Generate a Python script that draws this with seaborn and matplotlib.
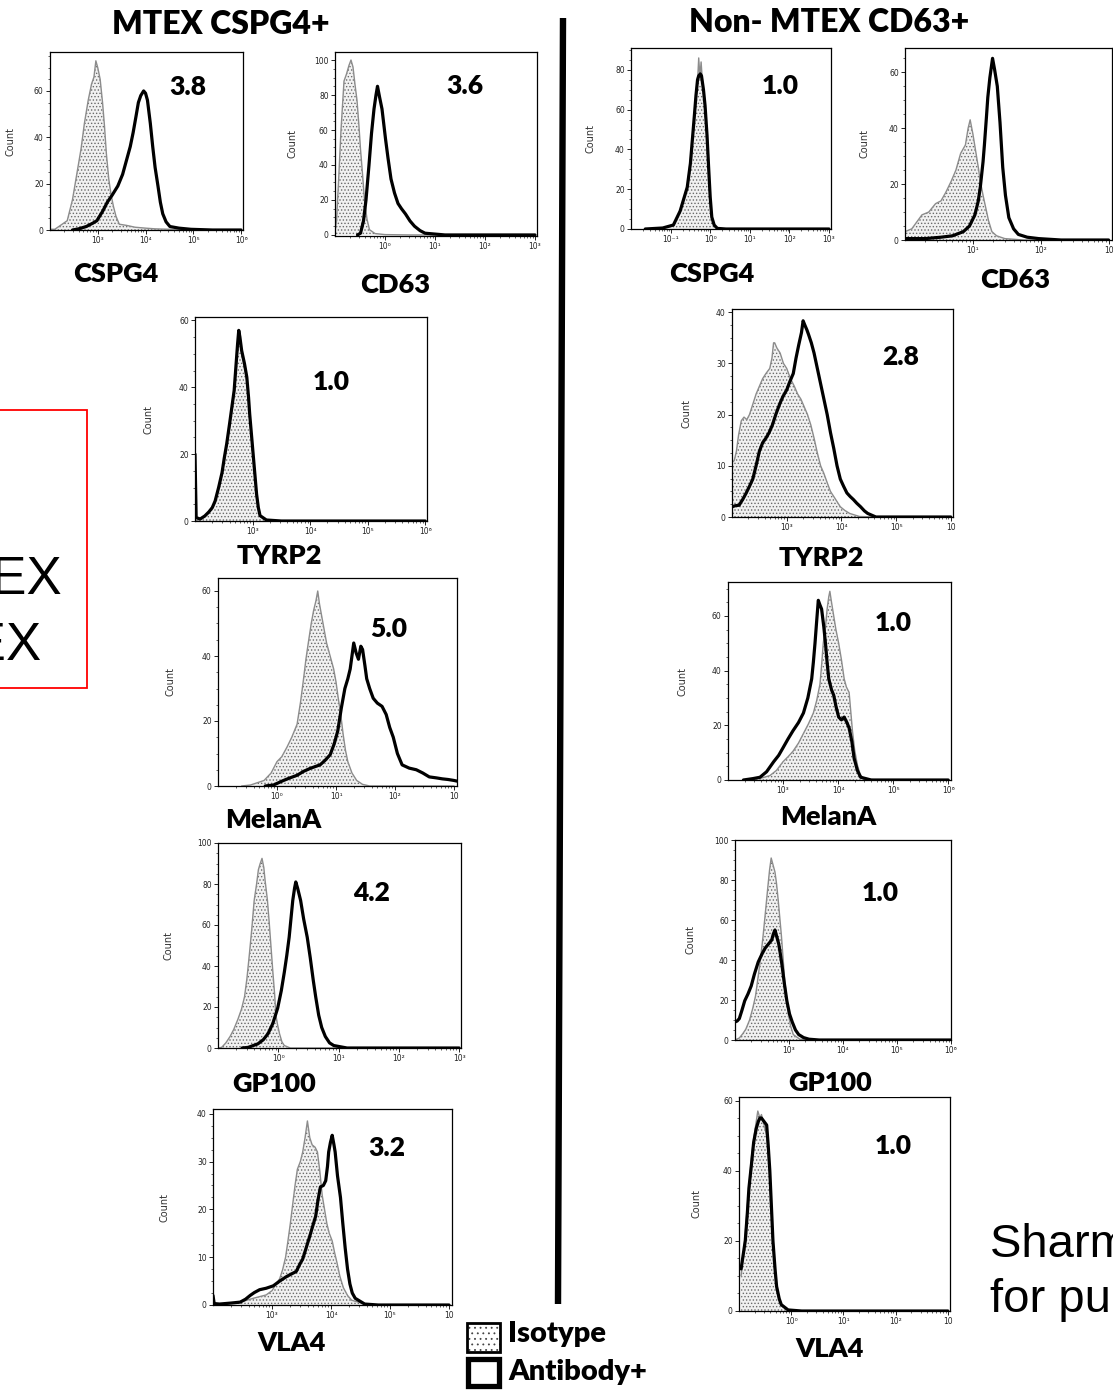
import numpy as np
import pandas as pd
import matplotlib
matplotlib.use("Agg")
import matplotlib.pyplot as plt
import seaborn as sns
from matplotlib.patches import Rectangle
from matplotlib.lines import Line2D
from matplotlib.ticker import AutoMinorLocator, LogLocator, NullFormatter, FixedLocator

# ---------------- data (log10 intensity, count) ----------------
GROUP_TITLES = ["MTEX CSPG4+", "Non- MTEX CD63+"]
MARKERS = ["CSPG4", "CD63", "TYRP2", "MelanA", "GP100", "VLA4"]
FOLD_MTEX = ["3.8", "3.6", "1.0", "5.0", "4.2", "3.2"]
FOLD_NON = ["1.0", "", "2.8", "1.0", "1.0", "1.0"]
LEGEND_LABELS = ["Isotype", "Antibody+"]

mtex_cspg4_iso = [(2.0,0.3),(2.1,0.3),(2.36,4),(2.47,13),(2.56,24),(2.65,35),(2.72,46),(2.8,56),(2.87,63),(2.92,66),(2.96,73),(3.0,70),(3.05,65),(3.1,55),(3.14,45),(3.18,33),(3.23,22),(3.28,15),(3.33,10),(3.38,6),(3.45,2.5),(3.6,2),(3.78,1.2),(4.0,0.8),(4.2,0.5),(4.7,0.2),(5.2,0),(6.0,0)]
mtex_cspg4_ab = [(2.47,0),(2.6,0.5),(2.76,1.5),(2.9,3),(2.98,4),(3.1,8),(3.2,12),(3.3,15),(3.42,19),(3.52,24),(3.6,30),(3.68,36),(3.74,42),(3.8,49),(3.85,55),(3.9,58),(3.96,60),(4.0,59),(4.04,56),(4.1,46),(4.15,36),(4.2,27),(4.26,19),(4.31,12),(4.36,7),(4.43,3.5),(4.51,1.5),(4.7,0.8),(4.95,0.3),(5.4,0),(6.0,0)]

mtex_cd63_iso = [(-1.0,2),(-0.97,8),(-0.93,30),(-0.88,60),(-0.82,88),(-0.77,92),(-0.72,97),(-0.68,100),(-0.64,96),(-0.6,86),(-0.56,77),(-0.52,62),(-0.49,49),(-0.45,35),(-0.41,20),(-0.36,9),(-0.31,3),(-0.2,0.8),(0.0,0.2),(0.5,0),(3.0,0)]
mtex_cd63_ab = [(-0.55,0),(-0.49,1),(-0.43,8),(-0.38,20),(-0.32,40),(-0.27,58),(-0.22,72),(-0.18,80),(-0.15,85),(-0.11,79),(-0.06,72),(0.01,55),(0.06,44),(0.12,32),(0.19,24),(0.26,18),(0.33,15),(0.41,12),(0.5,8),(0.59,5),(0.7,2.5),(0.8,1),(1.0,0.5),(1.2,0),(3.0,0)]

non_cspg4_iso = [(-1.64,0),(-1.2,0.5),(-0.93,2),(-0.76,9),(-0.66,15),(-0.58,21),(-0.5,35),(-0.45,45),(-0.4,58),(-0.35,70),(-0.31,78),(-0.29,86),(-0.26,76),(-0.23,84),(-0.2,75),(-0.16,68),(-0.13,60),(-0.08,45),(-0.04,30),(0.0,15),(0.04,6),(0.1,2),(0.18,0.3),(0.4,0),(3.0,0)]
non_cspg4_ab = [(-1.64,0),(-1.2,0.5),(-0.93,2),(-0.76,9),(-0.58,21),(-0.5,33),(-0.45,45),(-0.4,57),(-0.36,67),(-0.32,75),(-0.29,77),(-0.25,78),(-0.22,77),(-0.17,70),(-0.13,62),(-0.08,47),(-0.04,31),(0.0,16),(0.04,6),(0.1,2),(0.18,0.3),(0.4,0),(3.0,0)]

non_cd63_iso = [(0.0,3),(0.1,4),(0.25,9),(0.35,10),(0.45,13),(0.53,14),(0.6,17),(0.68,21),(0.75,25),(0.82,31),(0.89,34),(0.93,40),(0.96,43),(1.0,38),(1.04,32),(1.08,26),(1.11,21),(1.15,16),(1.19,11.5),(1.23,7),(1.28,3),(1.35,1.5),(1.47,0.5),(1.75,0),(3.0,0)]
non_cd63_ab = [(0.0,0.5),(0.3,0.5),(0.53,1),(0.7,1.5),(0.86,3),(0.95,5),(1.03,9),(1.08,14),(1.11,19),(1.15,28),(1.17,34),(1.2,44),(1.22,51),(1.25,58),(1.29,65),(1.32,61),(1.36,55),(1.4,42),(1.44,26),(1.48,16),(1.53,8),(1.6,4),(1.67,2),(1.8,1),(1.97,0.5),(2.3,0),(3.0,0)]

mtex_tyrp2_iso = [(2.0,0),(2.09,0.5),(2.17,1.4),(2.24,2.5),(2.3,4),(2.35,5.5),(2.41,9.5),(2.47,14),(2.51,18),(2.55,22.5),(2.6,28),(2.64,33),(2.68,38),(2.71,45),(2.74,52),(2.76,56),(2.78,54),(2.81,50),(2.86,46),(2.9,42),(2.93,36),(2.95,31),(2.98,25),(3.01,19),(3.04,13),(3.07,7.5),(3.1,3.5),(3.13,1.5),(3.24,0.3),(3.5,0),(6.0,0)]
mtex_tyrp2_ab = [(2.0,20),(2.02,1),(2.09,0.6),(2.17,1.5),(2.24,2.7),(2.3,4),(2.35,6),(2.41,10),(2.47,14.5),(2.51,19),(2.55,23),(2.6,29),(2.64,34),(2.68,39),(2.71,46),(2.74,53),(2.76,57),(2.78,55),(2.81,51),(2.86,47),(2.9,43),(2.93,37),(2.95,32),(2.98,26),(3.01,20),(3.04,14),(3.07,8),(3.1,4),(3.13,1.6),(3.24,0.3),(3.5,0),(6.0,0)]

mtex_melana_iso = [(-0.6,0),(-0.45,0.3),(-0.22,1.7),(-0.1,4),(0.0,7.5),(0.08,9),(0.17,12),(0.25,15),(0.34,19),(0.4,26),(0.45,33),(0.49,39),(0.53,44),(0.58,50),(0.62,54),(0.66,57),(0.69,60),(0.72,56),(0.76,52),(0.8,48),(0.84,44),(0.9,40),(0.96,36),(1.0,32),(1.03,28),(1.08,22),(1.12,16),(1.16,11),(1.2,7.5),(1.27,4),(1.35,1.7),(1.45,0.5),(1.57,0),(3.0,0)]
mtex_melana_ab = [(-0.2,0),(-0.06,0.3),(0.11,1.7),(0.22,2.5),(0.34,3.3),(0.45,4.5),(0.56,5.4),(0.65,6),(0.73,6.5),(0.82,8),(0.9,9.6),(0.97,13),(1.03,17),(1.09,24),(1.15,30),(1.2,33),(1.24,36),(1.27,40),(1.3,44),(1.34,41),(1.38,39),(1.42,43),(1.45,42),(1.49,37),(1.52,33),(1.57,30),(1.63,27),(1.7,25.5),(1.78,24.5),(1.85,22),(1.91,18),(1.97,15),(2.04,10),(2.12,6.5),(2.24,5.5),(2.36,5),(2.47,4),(2.58,2.8),(2.7,2.5),(2.8,2.2),(2.9,2),(3.0,1.7),(3.05,1.5)]

mtex_gp100_iso = [(-1.0,0),(-0.94,0.3),(-0.87,2.5),(-0.8,5.6),(-0.74,9),(-0.67,14),(-0.61,19),(-0.56,25),(-0.52,34),(-0.48,45.6),(-0.44,58),(-0.4,72),(-0.36,80),(-0.33,87),(-0.3,90),(-0.27,92.5),(-0.24,88),(-0.22,82),(-0.18,72),(-0.15,61),(-0.12,49),(-0.09,37),(-0.06,26),(-0.04,16),(-0.01,11),(0.02,7),(0.06,3),(0.1,1.2),(0.2,0),(3.0,0)]
mtex_gp100_ab = [(-0.6,0),(-0.5,0.3),(-0.34,2),(-0.25,4),(-0.17,7),(-0.09,12),(-0.01,19.5),(0.05,28),(0.1,37),(0.14,45),(0.18,54),(0.21,63),(0.24,72),(0.27,78),(0.29,81),(0.32,78),(0.37,72),(0.42,63),(0.48,54),(0.53,44),(0.58,33),(0.62,25),(0.67,16),(0.72,10),(0.78,5.6),(0.85,2.5),(0.92,1.2),(1.14,0),(3.0,0)]

mtex_vla4_iso = [(2.0,0),(2.18,0.2),(2.46,0.6),(2.68,1.4),(2.9,2.1),(3.0,3),(3.07,4.4),(3.13,5.5),(3.18,7.4),(3.23,10),(3.27,13.4),(3.31,17),(3.35,21),(3.39,25),(3.43,28.4),(3.48,30),(3.52,32),(3.56,35),(3.6,38.5),(3.64,35),(3.68,33.5),(3.73,33),(3.77,32),(3.81,28),(3.85,23),(3.89,20),(3.93,17),(3.97,15),(4.02,13.4),(4.06,11),(4.1,8.9),(4.15,6),(4.21,3.6),(4.28,2),(4.35,1),(4.57,0.2),(4.8,0),(6.0,0)]
mtex_vla4_ab = [(2.0,2),(2.02,0.3),(2.11,0.2),(2.3,0.4),(2.46,0.6),(2.55,1.2),(2.63,2),(2.7,2.6),(2.79,3.2),(2.9,3.5),(3.02,4),(3.13,5),(3.24,5.9),(3.33,6.5),(3.41,7),(3.47,8.5),(3.52,9.6),(3.58,12),(3.63,14),(3.69,16.5),(3.74,18.6),(3.78,22),(3.82,24.7),(3.87,25),(3.91,26),(3.94,29),(3.96,32),(3.99,34),(4.02,35.5),(4.05,33.5),(4.07,32),(4.11,27),(4.16,22.5),(4.2,17),(4.24,11.9),(4.28,7.5),(4.32,4.4),(4.36,2.5),(4.41,1.4),(4.57,0.2),(4.8,0),(6.0,0)]

non_tyrp2_iso = [(2.0,10.7),(2.04,11),(2.08,12.8),(2.12,16),(2.17,18.8),(2.22,19.5),(2.27,19),(2.32,20),(2.38,22),(2.44,24),(2.5,25.5),(2.56,27),(2.62,28),(2.69,29),(2.73,31),(2.76,34),(2.78,34),(2.82,33),(2.88,32),(2.94,30),(3.0,29),(3.07,27),(3.14,25.5),(3.2,24),(3.26,23),(3.32,21.5),(3.38,20),(3.44,18),(3.5,15.4),(3.56,12.5),(3.62,10),(3.68,8.5),(3.74,6.7),(3.8,5),(3.86,4),(3.92,3),(3.98,2),(4.06,1.3),(4.15,0.7),(4.33,0.1),(4.64,0),(6.0,0)]
non_tyrp2_ab = [(2.0,2),(2.06,2.2),(2.13,2.3),(2.2,3.5),(2.26,4.7),(2.32,6),(2.38,7.4),(2.44,10),(2.5,12.8),(2.56,14.5),(2.62,15.4),(2.68,16.5),(2.74,18),(2.8,20),(2.87,22),(2.93,23.5),(3.0,24.8),(3.06,26.5),(3.12,28),(3.17,31),(3.22,33.6),(3.27,36),(3.3,38.3),(3.33,37.5),(3.37,36.5),(3.4,35.6),(3.45,34),(3.5,32),(3.56,29),(3.62,26),(3.68,23),(3.74,20),(3.8,16.5),(3.86,13.4),(3.92,10),(3.98,7.4),(4.04,6),(4.1,4.7),(4.16,4),(4.22,3.4),(4.28,2.7),(4.35,2),(4.42,1.2),(4.48,0.7),(4.63,0),(6.0,0)]

non_melana_iso = [(2.4,0),(2.6,0.7),(2.76,1.6),(2.88,3.5),(3.0,6.7),(3.09,8.5),(3.18,10.5),(3.28,13.5),(3.37,17),(3.46,20.5),(3.55,24.5),(3.61,29),(3.67,35),(3.7,42),(3.73,50),(3.77,56),(3.8,62.5),(3.83,67),(3.85,69),(3.88,65),(3.92,60),(3.96,55),(4.01,50),(4.06,44),(4.11,37),(4.15,34),(4.2,32),(4.23,25),(4.26,18),(4.3,11),(4.35,5.5),(4.4,2),(4.47,0.4),(4.72,0),(6.0,0)]
non_melana_ab = [(2.28,0),(2.45,0.5),(2.58,1),(2.7,3),(2.83,6.7),(2.92,9),(3.0,11.8),(3.09,15),(3.18,18),(3.28,21),(3.37,24.5),(3.45,30),(3.52,37),(3.55,43),(3.58,50),(3.61,58),(3.64,65.7),(3.67,64),(3.7,62.5),(3.74,56),(3.77,50),(3.8,43),(3.83,37),(3.88,33),(3.92,31),(3.96,27),(4.01,23),(4.06,22),(4.11,23),(4.16,21),(4.2,19),(4.25,14),(4.29,8),(4.35,3.5),(4.41,1),(4.6,0),(6.0,0)]

non_gp100_iso = [(2.0,0),(2.08,1),(2.14,3),(2.2,5.4),(2.27,10),(2.33,16),(2.38,22),(2.42,30),(2.47,40),(2.52,52),(2.56,63),(2.61,77),(2.64,85),(2.67,91),(2.7,88),(2.74,84),(2.77,78),(2.8,70),(2.83,61),(2.86,52),(2.89,41),(2.92,30),(2.96,20),(2.99,12.5),(3.03,7),(3.08,2.7),(3.2,0.4),(3.4,0),(6.0,0)]
non_gp100_ab = [(2.0,9),(2.04,9.5),(2.08,10.7),(2.13,15),(2.18,19.6),(2.24,23),(2.3,27),(2.36,33),(2.43,39),(2.5,43),(2.56,46),(2.62,48),(2.68,50),(2.71,53),(2.74,55),(2.77,52),(2.81,48),(2.84,43),(2.87,37.5),(2.91,29),(2.96,19.6),(3.01,13),(3.06,9),(3.12,5),(3.18,2.7),(3.27,1.2),(3.37,0.4),(3.56,0),(6.0,0)]

non_vla4_iso = [(-0.96,10),(-0.92,15),(-0.88,22),(-0.84,30),(-0.8,37),(-0.76,44),(-0.72,49),(-0.67,54),(-0.64,57),(-0.6,55),(-0.57,56),(-0.52,53),(-0.47,50),(-0.44,45),(-0.41,38),(-0.38,29),(-0.35,19),(-0.31,11),(-0.28,6),(-0.23,3),(-0.19,1.5),(-0.06,0.3),(0.2,0),(3.0,0)]
non_vla4_ab = [(-0.96,12),(-0.92,16),(-0.88,20),(-0.84,28),(-0.81,35),(-0.76,42),(-0.72,48),(-0.67,52),(-0.63,54),(-0.6,55),(-0.57,55),(-0.52,54),(-0.47,53),(-0.44,47),(-0.41,40),(-0.38,30),(-0.35,20),(-0.31,12),(-0.28,7),(-0.23,3.5),(-0.19,1.8),(-0.06,0.3),(0.2,0),(3.0,0)]

# tick positions (decades) and labels as printed on the panels
mtex_cspg4_xt = [3, 4, 5, 6];  mtex_cspg4_xl = ["10³", "10⁴", "10⁵", "10⁶"]
mtex_cd63_xt = [0, 1, 2, 3];   mtex_cd63_xl = ["10⁰", "10¹", "10²", "10³"]
non_cspg4_xt = [-1, 0, 1, 2, 3]; non_cspg4_xl = ["10⁻¹", "10⁰", "10¹", "10²", "10³"]
non_cd63_xt = [1, 2, 3];       non_cd63_xl = ["10¹", "10²", "10"]
mtex_tyrp2_xt = [3, 4, 5, 6];  mtex_tyrp2_xl = ["10³", "10⁴", "10⁵", "10⁶"]
mtex_melana_xt = [0, 1, 2, 3]; mtex_melana_xl = ["10⁰", "10¹", "10²", "10"]
mtex_gp100_xt = [0, 1, 2, 3];  mtex_gp100_xl = ["10⁰", "10¹", "10²", "10³"]
mtex_vla4_xt = [3, 4, 5, 6];   mtex_vla4_xl = ["10³", "10⁴", "10⁵", "10"]
non_tyrp2_xt = [3, 4, 5, 6];   non_tyrp2_xl = ["10³", "10⁴", "10⁵", "10"]
non_melana_xt = [3, 4, 5, 6];  non_melana_xl = ["10³", "10⁴", "10⁵", "10⁶"]
non_gp100_xt = [3, 4, 5, 6];   non_gp100_xl = ["10³", "10⁴", "10⁵", "10⁶"]
non_vla4_xt = [0, 1, 2, 3];    non_vla4_xl = ["10⁰", "10¹", "10²", "10"]

# ---------------- figure ----------------
W, H = 1113, 1390
sns.set_theme(style="ticks")
plt.rcParams['font.family'] = ['DejaVu Sans']
plt.rcParams['hatch.color'] = '#6a6a6a'
plt.rcParams['hatch.linewidth'] = 0.6
fig = plt.figure(figsize=(W / 100, H / 100), dpi=100)
fig.patch.set_facecolor('white')

BOLD = dict(family=['Lato', 'DejaVu Sans'], weight='heavy', color='black')


def ftext(x, y, s, ha='center', **kw):
    fig.text(x / W, 1 - y / H, s, ha=ha, va='center', **kw)


def panel(box, xlim, ylim, yticks, iso, ab, xt, xl, count_x):
    L, T, R, B = box
    ax = fig.add_axes([L / W, 1 - B / H, (R - L) / W, (B - T) / H])
    ax.set_xscale('log')
    di = pd.DataFrame(iso, columns=['logx', 'count'])
    di['x'] = 10.0 ** di['logx']
    da = pd.DataFrame(ab, columns=['logx', 'count'])
    da['x'] = 10.0 ** da['logx']
    ax.fill_between(di['x'], di['count'], 0, facecolor='#f1f1f1',
                    edgecolor='#6a6a6a', hatch='.....', linewidth=0, zorder=1)
    sns.lineplot(data=di, x='x', y='count', ax=ax, color='#8c8c8c', linewidth=1.0,
                 sort=False, estimator=None, zorder=2)
    sns.lineplot(data=da, x='x', y='count', ax=ax, color='black', linewidth=2.3,
                 sort=False, estimator=None, zorder=3, solid_joinstyle='round')
    ax.set_xlim(10.0 ** xlim[0], 10.0 ** xlim[1])
    ax.set_ylim(*ylim)
    ax.xaxis.set_major_locator(FixedLocator([10.0 ** p for p in xt]))
    ax.set_xticklabels(xl)
    ax.xaxis.set_minor_locator(LogLocator(base=10, subs=np.arange(2, 10)))
    ax.xaxis.set_minor_formatter(NullFormatter())
    ax.set_yticks(yticks)
    ax.yaxis.set_minor_locator(AutoMinorLocator(4))
    ax.tick_params(which='major', length=3, width=0.7, labelsize=5.5, pad=1.5,
                   colors='#222222', direction='out')
    ax.tick_params(which='minor', length=1.6, width=0.5, colors='#222222')
    for s in ax.spines.values():
        s.set_visible(True)
        s.set_linewidth(0.9)
        s.set_color('black')
    ax.set_xlabel('')
    ax.set_ylabel('Count', fontsize=7, color='#333333')
    ax.yaxis.set_label_coords((count_x - L) / (R - L), 0.5)
    return ax


# MTEX column
panel((50, 52, 243, 230), (2.0, 6.04), (0, 76.8), [0, 20, 40, 60], mtex_cspg4_iso, mtex_cspg4_ab, mtex_cspg4_xt, mtex_cspg4_xl, 16)
panel((335, 52, 537, 236), (-1.0, 3.04), (-0.6, 104.6), [0, 20, 40, 60, 80, 100], mtex_cd63_iso, mtex_cd63_ab, mtex_cd63_xt, mtex_cd63_xl, 298)
panel((195, 317, 427, 521), (2.0, 6.03), (0, 61), [0, 20, 40, 60], mtex_tyrp2_iso, mtex_tyrp2_ab, mtex_tyrp2_xt, mtex_tyrp2_xl, 153)
panel((218, 578, 457, 786), (-1.0, 3.05), (0, 64), [0, 20, 40, 60], mtex_melana_iso, mtex_melana_ab, mtex_melana_xt, mtex_melana_xl, 176)
panel((218, 843, 461, 1048), (-1.0, 3.03), (0, 100), [0, 20, 40, 60, 80, 100], mtex_gp100_iso, mtex_gp100_ab, mtex_gp100_xt, mtex_gp100_xl, 174)
panel((213, 1109, 452, 1305), (2.0, 6.05), (0, 41), [0, 10, 20, 30, 40], mtex_vla4_iso, mtex_vla4_ab, mtex_vla4_xt, mtex_vla4_xl, 170)

# Non-MTEX column
panel((631, 48, 831, 229), (-2.0, 3.05), (0, 91), [0, 20, 40, 60, 80], non_cspg4_iso, non_cspg4_ab, non_cspg4_xt, non_cspg4_xl, 596)
panel((905, 48, 1112, 240), (0.0, 3.05), (0, 68.7), [0, 20, 40, 60], non_cd63_iso, non_cd63_ab, non_cd63_xt, non_cd63_xl, 869)
panel((732, 309, 953, 517), (2.0, 6.04), (0, 40.6), [0, 10, 20, 30, 40], non_tyrp2_iso, non_tyrp2_ab, non_tyrp2_xt, non_tyrp2_xl, 691)
panel((728, 582, 951, 780), (2.0, 6.05), (0, 72.4), [0, 20, 40, 60], non_melana_iso, non_melana_ab, non_melana_xt, non_melana_xl, 688)
panel((735, 840, 951, 1040), (2.0, 6.0), (0, 100), [0, 20, 40, 60, 80, 100], non_gp100_iso, non_gp100_ab, non_gp100_xt, non_gp100_xl, 696)
panel((739, 1097, 950, 1311), (-1.0, 3.04), (0, 61), [0, 20, 40, 60], non_vla4_iso, non_vla4_ab, non_vla4_xt, non_vla4_xl, 701)

# group titles
ftext(221, 24, GROUP_TITLES[0], fontsize=23, **BOLD)
ftext(829, 22, GROUP_TITLES[1], fontsize=23, **BOLD)

# marker names
mtex_label_pos = [(116, 274), (395, 285), (279, 556), (273, 820), (274, 1084), (292, 1343)]
non_label_pos = [(712, 274), (1015, 280), (821, 558), (828, 817), (830, 1083), (830, 1349)]
for name, (x, y) in zip(MARKERS, mtex_label_pos):
    ftext(x, y, name, fontsize=19.5, **BOLD)
for name, (x, y) in zip(MARKERS, non_label_pos):
    ftext(x, y, name, fontsize=19.5, **BOLD)
# the lower GP100 label is partly hidden behind the next panel
fig.patches.append(Rectangle((770 / W, 1 - 1097 / H), 130 / W, 6 / H, transform=fig.transFigure,
                             facecolor='white', edgecolor='none', zorder=10))

# fold values
mtex_fold_pos = [(188, 87), (465, 86), (331, 382), (389, 629), (372, 893), (387, 1148)]
non_fold_pos = [(780, 86), (1000, 86), (901, 357), (893, 623), (880, 893), (893, 1146)]
for v, (x, y) in zip(FOLD_MTEX, mtex_fold_pos):
    ftext(x, y, v, fontsize=19, **BOLD)
for v, (x, y) in zip(FOLD_NON, non_fold_pos):
    if v:
        ftext(x, y, v, fontsize=19, **BOLD)

# divider
fig.lines.append(Line2D([563 / W, 558 / W], [1 - 18 / H, 1 - 1304 / H], transform=fig.transFigure,
                        color='black', linewidth=4.6, solid_capstyle='butt'))

# legend
fig.patches.append(Rectangle((467 / W, 1 - 1352 / H), 33 / W, 29 / H, transform=fig.transFigure,
                             facecolor='white', edgecolor='#444444', hatch='...', linewidth=0))
fig.patches.append(Rectangle((467 / W, 1 - 1352 / H), 33 / W, 29 / H, transform=fig.transFigure,
                             facecolor='none', edgecolor='black', linewidth=2.0))
fig.patches.append(Rectangle((468 / W, 1 - 1386 / H), 31 / W, 27 / H, transform=fig.transFigure,
                             facecolor='white', edgecolor='black', linewidth=3.8))
ftext(508, 1334, LEGEND_LABELS[0], ha='left', fontsize=21, **BOLD)
ftext(508, 1372, LEGEND_LABELS[1], ha='left', fontsize=21, **BOLD)

# red box on the left (cut by the image edge, as in the source)
fig.patches.append(Rectangle((-5 / W, 1 - 688 / H), 92 / W, 278 / H, transform=fig.transFigure,
                             facecolor='none', edgecolor='red', linewidth=1.3))
fig.text(62 / W, 1 - 580 / H, "MTEX", ha='right', va='center', fontsize=38,
         family=['Liberation Sans', 'DejaVu Sans'], color='black')
fig.text(42 / W, 1 - 645 / H, "non-MTEX", ha='right', va='center', fontsize=38,
         family=['Liberation Sans', 'DejaVu Sans'], color='black')

# note at the lower right (cut by the image edge, as in the source)
fig.text(990 / W, 1 - 1245 / H, "Sharma et al.", ha='left', va='center', fontsize=34,
         family=['Liberation Sans', 'DejaVu Sans'], color='black')
fig.text(990 / W, 1 - 1300 / H, "for publication", ha='left', va='center', fontsize=34,
         family=['Liberation Sans', 'DejaVu Sans'], color='black')

fig.savefig('out.png', dpi=100, facecolor='white')
